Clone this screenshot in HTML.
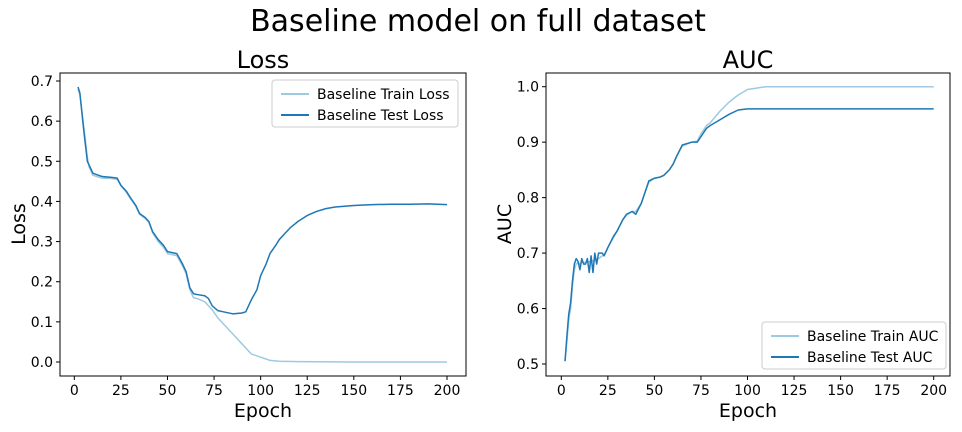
<!DOCTYPE html>
<html><head><meta charset="utf-8"><style>
body{margin:0;background:#fff;font-family:"Liberation Sans","DejaVu Sans",sans-serif}
svg text{font-family:"DejaVu Sans","Liberation Sans",sans-serif;fill:#000}
</style></head><body>
<svg id="c" width="962" height="427" viewBox="0 0 962 427" xmlns="http://www.w3.org/2000/svg">
<text x="478" y="31" font-size="30" text-anchor="middle">Baseline model on full dataset</text>
<g id="g1"></g><g id="g2"></g>
</svg>
<script>
const lossEpochs=[2,3,5,7,8,10,15,20,23,25,28,30,33,35,38,40,42,45,48,50,55,58,60,62,64,66,70,72,74,77,80,85,90,92,95,98,100,103,105,108,110,113,116,120,125,130,135,140,150,160,170,180,190,200];
const lossTest=[0.685,0.67,0.58,0.5,0.49,0.47,0.462,0.46,0.458,0.44,0.425,0.41,0.39,0.37,0.36,0.35,0.325,0.305,0.29,0.275,0.27,0.245,0.225,0.185,0.17,0.168,0.165,0.158,0.14,0.128,0.125,0.12,0.122,0.125,0.155,0.18,0.215,0.245,0.27,0.29,0.305,0.32,0.335,0.35,0.365,0.375,0.382,0.386,0.39,0.392,0.393,0.393,0.394,0.392];
const trainEpochs=[2,3,5,7,8,10,15,20,23,25,28,30,33,35,38,40,42,45,48,50,55,58,60,62,64,66,70,72,74,77,80,85,90,95,100,105,110,120,150,200];
const lossTrain=[0.68,0.665,0.59,0.51,0.485,0.465,0.458,0.457,0.455,0.44,0.422,0.408,0.388,0.368,0.358,0.348,0.322,0.3,0.285,0.27,0.265,0.24,0.22,0.18,0.16,0.158,0.15,0.14,0.13,0.11,0.095,0.07,0.045,0.02,0.012,0.004,0.002,0.001,0.0,0.0];
const aucEpochs=[2,3,4,5,6,7,8,9,10,11,12,13,14,15,16,17,18,19,20,22,23,25,28,30,33,35,38,40,43,45,47,50,53,55,58,60,62,65,70,73,75,78,80,85,90,95,100,110,150,200];
const aucTest=[0.505,0.55,0.59,0.61,0.65,0.68,0.69,0.685,0.67,0.69,0.68,0.68,0.69,0.665,0.695,0.665,0.7,0.68,0.7,0.7,0.695,0.71,0.73,0.74,0.76,0.77,0.775,0.77,0.79,0.81,0.83,0.835,0.837,0.84,0.85,0.86,0.875,0.895,0.9,0.9,0.91,0.925,0.93,0.94,0.95,0.958,0.96,0.96,0.96,0.96];
const aucTrain=[0.505,0.54,0.58,0.6,0.64,0.67,0.68,0.683,0.68,0.685,0.683,0.683,0.685,0.684,0.686,0.686,0.687,0.688,0.69,0.695,0.697,0.71,0.728,0.74,0.76,0.768,0.775,0.775,0.79,0.81,0.828,0.835,0.837,0.84,0.85,0.86,0.875,0.893,0.9,0.902,0.915,0.93,0.935,0.955,0.972,0.985,0.995,1.0,1.0,1.0];
const xTicks=[0,25,50,75,100,125,150,175,200];
const lossTicks=[0.0,0.1,0.2,0.3,0.4,0.5,0.6,0.7];
const aucTicks=[0.5,0.6,0.7,0.8,0.9,1.0];
const NS="http://www.w3.org/2000/svg";
function mk(p,t,a){const e=document.createElementNS(NS,t);for(const k in a)e.setAttribute(k,a[k]);p.appendChild(e);return e;}
function panel(g,o){
  const sx=v=>o.x0+(v-0)*(o.x200-o.x0)/200;
  const sy=v=>o.ya+(v-o.va)*(o.yb-o.ya)/(o.vb-o.va);
  let r=mk(g,'rect',{x:o.L,y:73,width:o.R-o.L,height:303,fill:'none',stroke:'#000','stroke-width':1});
  
  
  xTicks.forEach(v=>{const x=sx(v);mk(g,'line',{x1:x,x2:x,y1:376,y2:380,stroke:'#000'});
    const t=mk(g,'text',{x:x,y:395,'font-size':14,'text-anchor':'middle'});t.textContent=v;
    
    });
  o.ticks.forEach(v=>{const y=sy(v);mk(g,'line',{x1:o.L-4,x2:o.L,y1:y,y2:y,stroke:'#000'});
    const t=mk(g,'text',{x:o.L-7,y:y+5,'font-size':14,'text-anchor':'end'});t.textContent=v.toFixed(1);
    
    });
  o.series.forEach(s=>{const p=mk(g,'polyline',{points:s.e.map((e,i)=>sx(e)+','+sy(s.v[i])).join(' '),fill:'none',stroke:s.c,'stroke-width':1.5,'stroke-linejoin':'round'});
    
    });
  let t=mk(g,'text',{x:(o.L+o.R)/2,y:68,'font-size':24,'text-anchor':'middle'});t.textContent=o.title;
  
  
  t=mk(g,'text',{x:(o.L+o.R)/2,y:417,'font-size':19,'text-anchor':'middle'});t.textContent='Epoch';
  
  
  t=mk(g,'text',{x:0,y:0,'font-size':19,'text-anchor':'middle',transform:`translate(${o.L-35},${224}) rotate(-90)`});t.textContent=o.ylab;
  
  
  const lg=mk(g,'g',{});
  
  
  mk(lg,'rect',{x:o.lx,y:o.ly,width:o.lw,height:47,rx:3,fill:'#fff',stroke:'#ccc'});
  o.series.forEach((s,i)=>{const y=o.ly+14+i*21;
    mk(lg,'line',{x1:o.lx+9,x2:o.lx+37,y1:y,y2:y,stroke:s.c,'stroke-width':2});
    const tt=mk(lg,'text',{x:o.lx+45,y:y+5,'font-size':14});tt.textContent=s.label;
    
    });
}
panel(document.getElementById('g1'),{id:'loss',L:60,R:466,x0:74.3,x200:447,ya:362,va:0,yb:81,vb:0.7,ticks:lossTicks,title:'Loss',ylab:'Loss',
  lx:272,ly:80,lw:186,series:[{e:trainEpochs,v:lossTrain,c:'#9ecae1',n:'train-loss-line',label:'Baseline Train Loss'},{e:lossEpochs,v:lossTest,c:'#1f77b4',n:'test-loss-line',label:'Baseline Test Loss'}]});
panel(document.getElementById('g2'),{id:'auc',L:546,R:950,x0:561.3,x200:933.7,ya:364,va:0.5,yb:86.7,vb:1.0,ticks:aucTicks,title:'AUC',ylab:'AUC',
  lx:762,ly:322,lw:184,series:[{e:aucEpochs,v:aucTrain,c:'#9ecae1',n:'train-auc-line',label:'Baseline Train AUC'},{e:aucEpochs,v:aucTest,c:'#1f77b4',n:'test-auc-line',label:'Baseline Test AUC'}]});
</script>
</body></html>
